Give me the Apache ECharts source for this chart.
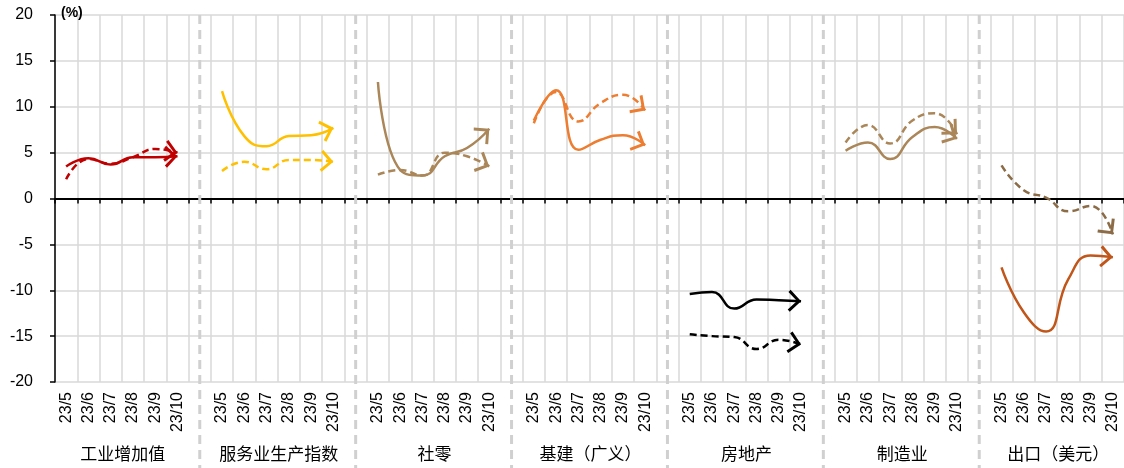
<!DOCTYPE html>
<html><head><meta charset="utf-8">
<script src="https://cdn.jsdelivr.net/npm/echarts@6/dist/echarts.min.js"></script>
<style>html,body{margin:0;padding:0;background:#fff}#c{width:1124px;height:468px}</style>
</head><body><div id="c"></div>
<script>
// ---- data ----
const groupNames = ['工业增加值', '服务业生产指数', '社零', '基建（广义）', '房地产', '制造业', '出口（美元）'];
const months = ['23/5', '23/6', '23/7', '23/8', '23/9', '23/10'];
const industrySolid  = [3.5, 4.4, 3.7, 4.5, 4.5, 4.6];
const industryDashed = [2.1, 4.3, 3.8, 4.5, 5.4, 5.0];
const serviceSolid   = [11.7, 6.8, 5.7, 6.8, 6.9, 7.7];
const serviceDashed  = [3.0, 4.0, 3.2, 4.2, 4.2, 4.0];
const retailSolid    = [12.7, 3.1, 2.5, 4.6, 5.5, 7.6];
const retailDashed   = [2.6, 3.1, 2.5, 5.0, 4.6, 3.5];
const infraSolid     = [8.5, 11.8, 5.3, 6.4, 6.9, 5.8];
const infraDashed    = [8.2, 11.6, 8.4, 10.4, 11.3, 9.6];
const estateSolid    = [-10.4, -10.2, -12.0, -11.0, -11.1, -11.2];
const estateDashed   = [-14.8, -15.0, -15.1, -16.4, -15.4, -15.9];
const mfgSolid       = [5.2, 6.1, 4.3, 6.7, 7.8, 6.5];
const mfgDashed      = [6.1, 8.0, 6.0, 8.5, 9.3, 7.0];
const exportSolid    = [-7.5, -12.4, -14.5, -8.8, -6.2, -6.4];
const exportDashed   = [3.6, 0.9, 0.1, -1.4, -0.8, -3.9];
const yMin = -20, yMax = 20, yStep = 5;

// ---- styles ----
const solidColors  = ['#C00000', '#FFC000', '#AA8658', '#ED7D31', '#000000', '#AA8658', '#C0561A'];
const dashedColors = ['#C00000', '#FFC000', '#AA8658', '#ED7D31', '#000000', '#AA8658', '#8B6C47'];

const groups = [
  [industrySolid, industryDashed], [serviceSolid, serviceDashed], [retailSolid, retailDashed],
  [infraSolid, infraDashed], [estateSolid, estateDashed], [mfgSolid, mfgDashed], [exportSolid, exportDashed]
];
const per = months.length + 1;
const categories = [];
groupNames.forEach((g, gi) => {
  months.forEach(m => categories.push(m));
  if (gi < groupNames.length - 1) categories.push('');
});
const N = categories.length;

const series = [];
const arrowSpecs = [];
groups.forEach((pair, gi) => {
  pair.forEach((vals, k) => {
    const arr = new Array(N).fill(null);
    vals.forEach((v, i) => { arr[gi * per + i] = v; });
    const color = k === 0 ? solidColors[gi] : dashedColors[gi];
    series.push({
      type: 'line', data: arr, smooth: 0.5, symbol: 'none', connectNulls: false,
      silent: true, animation: false, z: k === 0 ? 4 : 3,
      emphasis: { disabled: true },
      lineStyle: { color: color, width: 2.5, type: k === 0 ? 'solid' : [7, 4], cap: 'butt' }
    });
    arrowSpecs.push({ gi: gi, vals: vals, color: color });
  });
});
series.push({ type: 'scatter', data: [], silent: true, animation: false, z: 5 });

const chart = echarts.init(document.getElementById('c'));
const option = {
  animation: false,
  grid: { left: 55, right: 0, top: 15, bottom: 86, containLabel: false },
  xAxis: [
    {
      type: 'category', data: categories, boundaryGap: true, position: 'bottom',
      axisLine: { show: true, onZero: true, lineStyle: { color: '#000', width: 2 } },
      axisTick: { show: true, interval: 0, length: 5, lineStyle: { color: '#000', width: 1.5 } },
      axisLabel: { show: false },
      splitLine: { show: true, interval: 0, lineStyle: { color: '#d9d9d9', width: 1.5 } }
    },
    {
      type: 'category', data: categories, boundaryGap: true, position: 'bottom',
      axisLine: { show: false, onZero: false }, axisTick: { show: false }, splitLine: { show: false },
      axisLabel: { interval: 0, rotate: 90, margin: 10, fontSize: 16, fontFamily: 'Liberation Sans, Arial', color: '#000' }
    }
  ],
  yAxis: {
    type: 'value', min: yMin, max: yMax, interval: yStep,
    axisLine: { show: true, onZero: false, lineStyle: { color: '#000', width: 1.5 } },
    axisTick: { show: true, length: 5, lineStyle: { color: '#000', width: 1.5 } },
    axisLabel: { margin: 22, fontSize: 16, fontFamily: 'Liberation Sans, Arial', color: '#000' },
    splitLine: { show: true, lineStyle: { color: '#d9d9d9', width: 1.5 } },
    name: '(%)', nameLocation: 'end', nameGap: 2,
    nameTextStyle: { align: 'left', verticalAlign: 'middle', padding: [0, 0, 0, 6], fontSize: 14, fontWeight: 'bold', fontFamily: 'Liberation Sans, Arial', color: '#000' }
  },
  series: series
};
chart.setOption(option);

// ---- derived graphics from axis scales ----
const H = 468;
const topY = chart.convertToPixel({ yAxisIndex: 0 }, yMax);
const graphics = [];
for (let gi = 0; gi < groupNames.length - 1; gi++) {
  const x = chart.convertToPixel({ xAxisIndex: 0 }, gi * per + months.length);
  graphics.push({
    type: 'line', z: 1, silent: true,
    shape: { x1: x, y1: topY, x2: x, y2: H },
    style: { stroke: '#d0d0d0', lineWidth: 3, lineDash: [9, 6] }
  });
}
groupNames.forEach((name, gi) => {
  const x1 = chart.convertToPixel({ xAxisIndex: 0 }, gi * per + 2);
  const x2 = chart.convertToPixel({ xAxisIndex: 0 }, gi * per + 3);
  graphics.push({
    type: 'text', silent: true, x: (x1 + x2) / 2 + 1, y: 454,
    style: { text: name, fill: '#000', font: '17px "Noto Sans CJK SC"', textAlign: 'center', textVerticalAlign: 'middle' }
  });
});

const arrowPath = 'path://M0,2.2 L2.2,0 L14,11 L2.2,22 L0,19.8 L9.6,11 Z';
const arrowLen = 13;
const arrowData = arrowSpecs.map(s => {
  const n = s.vals.length;
  const i1 = s.gi * per + n - 2, i2 = s.gi * per + n - 1;
  const p1 = chart.convertToPixel({ gridIndex: 0 }, [i1, s.vals[n - 2]]);
  const p2 = chart.convertToPixel({ gridIndex: 0 }, [i2, s.vals[n - 1]]);
  const dx = p2[0] - p1[0], dy = p2[1] - p1[1];
  const L = Math.sqrt(dx * dx + dy * dy) || 1;
  const ux = dx / L, uy = dy / L;
  return {
    value: [i2, s.vals[n - 1]],
    symbol: arrowPath,
    symbolSize: [arrowLen, 22],
    symbolRotate: Math.atan2(-dy, dx) * 180 / Math.PI,
    symbolOffset: [-ux * arrowLen / 2, -uy * arrowLen / 2],
    itemStyle: { color: s.color, opacity: 1 }
  };
});
const upd = series.slice();
upd[upd.length - 1] = { type: 'scatter', data: arrowData, silent: true, animation: false, z: 5, emphasis: { disabled: true } };
chart.setOption({ graphic: graphics, series: upd });
</script>
</body></html>
